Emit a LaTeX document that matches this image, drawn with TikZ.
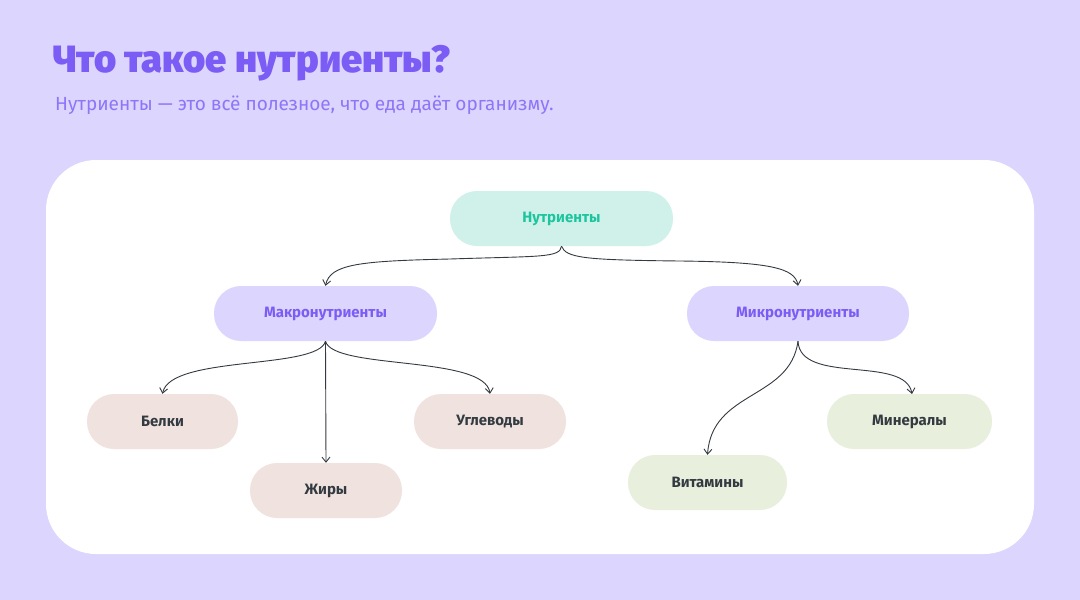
\documentclass[tikz,border=0pt]{standalone}
\usepackage{fontspec}
\setmainfont{Fira Sans}
\newfontfamily\heavy{Fira Sans Black}
\usetikzlibrary{arrows.meta}
\definecolor{bg}{HTML}{DCD5FD}
\definecolor{purp}{HTML}{7B5CF5}
\definecolor{teal}{HTML}{1CC59E}
\definecolor{tealf}{HTML}{CFF1EA}
\definecolor{pinkf}{HTML}{F0E3DF}
\definecolor{greenf}{HTML}{E9EFDD}
\definecolor{dark}{HTML}{333A40}
\begin{document}
\begin{tikzpicture}[x=1pt,y=-1pt,
 box/.style={rounded corners=27pt,inner sep=0pt,font=\fontsize{15}{18}\selectfont\bfseries},
 con/.style={draw=dark,line width=0.9pt,-{Straight Barb[length=5pt,width=8pt]}}]
\fill[bg] (0,0) rectangle (1080,600);
\useasboundingbox (0,0) rectangle (1080,600);
\fill[white,rounded corners=50pt] (46,160) rectangle (1034,554);
\node[anchor=base west,text=purp,font=\heavy\fontsize{38}{44}\selectfont,inner sep=0] (t) at (53,72) {Что такое нутриенты?};
\node[anchor=base west,text=purp!85,font=\fontsize{19}{22}\selectfont,inner sep=0] (s) at (55,110) {Нутриенты — это всё полезное, что еда даёт организму.};
\node[box,fill=tealf,text=teal,minimum width=223pt,minimum height=55pt] (n) at (561.5,218.5) {Нутриенты};
\node[box,fill=bg,text=purp,minimum width=223pt,minimum height=55pt] (ma) at (325.5,313.5) {Макронутриенты};
\node[box,fill=bg,text=purp,minimum width=222pt,minimum height=55pt] (mi) at (798,313.5) {Микронутриенты};
\node[box,fill=pinkf,text=dark,minimum width=151pt,minimum height=55pt] (b) at (162.5,421.5) {Белки};
\node[box,fill=pinkf,text=dark,minimum width=152pt,minimum height=55pt] (z) at (326,490.5) {Жиры};
\node[box,fill=pinkf,text=dark,minimum width=152pt,minimum height=55pt] (u) at (490,421.5) {Углеводы};
\node[box,fill=greenf,text=dark,minimum width=159pt,minimum height=55pt] (v) at (707.5,482.5) {Витамины};
\node[box,fill=greenf,text=dark,minimum width=165pt,minimum height=55pt] (m) at (909.5,421.5) {Минералы};
\draw[con] (n.south) .. controls (560,258) and (540,256) .. (450,259) .. controls (360,261) and (330,264) .. (ma.north);
\draw[con] (n.south) .. controls (566,258) and (585,260) .. (680,261) .. controls (770,262) and (795,268) .. (mi.north);
\draw[con] (ma.south) .. controls (318,370) and (170,355) .. (b.north);
\draw[con] (ma.south) -- (z.north);
\draw[con] (ma.south) .. controls (333,370) and (485,355) .. (u.north);
\draw[con] (mi.south) .. controls (790,400) and (712,390) .. (v.north);
\draw[con] (mi.south) .. controls (800,385) and (905,355) .. (912,394);
\end{tikzpicture}
\end{document}
